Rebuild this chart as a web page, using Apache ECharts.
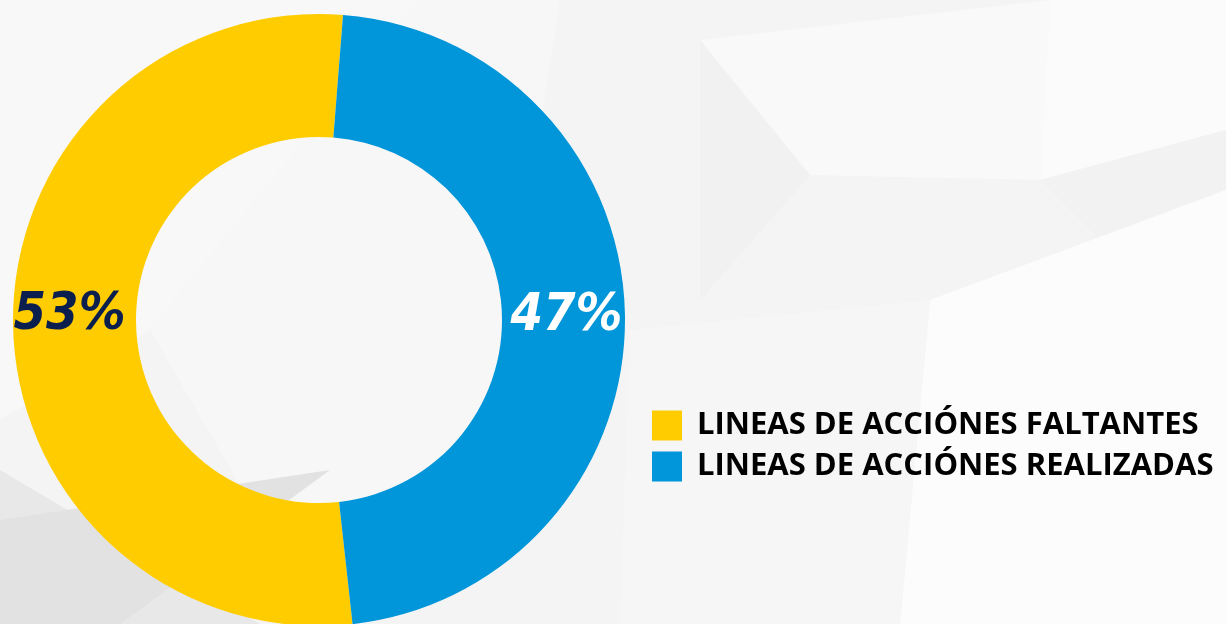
<!DOCTYPE html>
<html>
<head>
<meta charset="utf-8">
<script src="https://cdn.jsdelivr.net/npm/echarts@6/dist/echarts.min.js"></script>
<style>
  html, body { margin: 0; padding: 0; }
  #main { width: 1226px; height: 624px; }
</style>
</head>
<body>
<div id="main"></div>
<script>
// datos de la dona
var categorias = ['LINEAS DE ACCIÓNES FALTANTES', 'LINEAS DE ACCIÓNES REALIZADAS'];
var valores = [53, 47];
var colores = ['#FFCC00', '#0096D9'];
var coloresEtiqueta = ['#0B1F4E', '#FFFFFF'];

var chart = echarts.init(document.getElementById('main'));

// fondo gris con triangulos claros
var fondo = [
  { pts: [[0, 0], [420, 0], [150, 330], [0, 420]], c: '#f8f8f8' },
  { pts: [[150, 330], [420, 0], [560, 0], [480, 520], [260, 520]], c: '#f7f7f7' },
  { pts: [[700, 40], [810, 175], [700, 300]], c: '#f1f1f1' },
  { pts: [[700, 40], [1050, 0], [1040, 180], [810, 175]], c: '#f9f9f9' },
  { pts: [[1050, 0], [1226, 0], [1226, 130], [1040, 180]], c: '#fbfbfb' },
  { pts: [[1040, 180], [1226, 130], [1226, 190], [1100, 240]], c: '#f2f2f2' },
  { pts: [[930, 300], [1226, 190], [1226, 624], [900, 624]], c: '#fcfcfc' },
  { pts: [[0, 470], [260, 624], [0, 624]], c: '#e8e8e8' },
  { pts: [[0, 520], [330, 470], [120, 624], [0, 624]], c: '#e2e2e2' },
  { pts: [[630, 330], [930, 300], [900, 624], [620, 624]], c: '#f6f6f6' }
];

var option = {
  backgroundColor: '#f4f4f4',
  graphic: fondo.map(function (f) {
    return { type: 'polygon', silent: true, z: -10, shape: { points: f.pts }, style: { fill: f.c } };
  }),
  legend: {
    orient: 'vertical',
    left: 647,
    top: 405,
    itemWidth: 30,
    itemHeight: 30,
    itemGap: 10,
    icon: 'rect',
    data: categorias,
    textStyle: {
      fontFamily: 'Open Sans',
      fontWeight: 'bold',
      fontSize: 31,
      lineHeight: 30,
      color: '#000',
      padding: [0, 0, 0, 10]
    }
  },
  series: [
    {
      type: 'pie',
      center: [319, 320],
      radius: [183, 306],
      startAngle: -83.7,
      clockwise: true,
      silent: true,
      label: {
        show: true,
        position: 'inside',
        formatter: '{d}%',
        fontFamily: 'DejaVu Sans Condensed',
        fontStyle: 'italic',
        fontWeight: 'bold',
        fontSize: 52
      },
      labelLine: { show: false },
      data: categorias.map(function (n, i) {
        return {
          name: n,
          value: valores[i],
          itemStyle: { color: colores[i] },
          label: { color: coloresEtiqueta[i], offset: i === 0 ? [-2, -8] : [0, 0] }
        };
      })
    }
  ]
};

chart.setOption(option);
</script>
</body>
</html>
